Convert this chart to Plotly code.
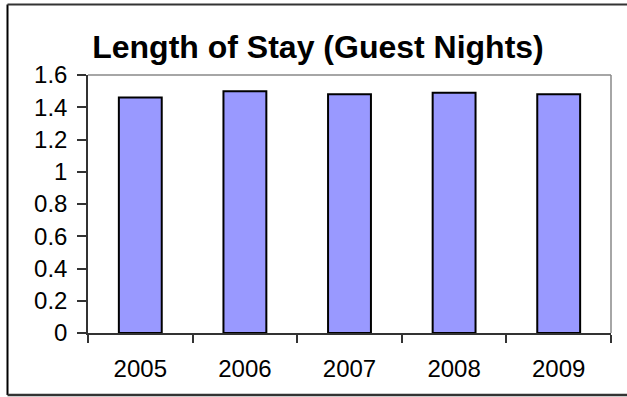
import plotly.graph_objects as go

years = ["2005", "2006", "2007", "2008", "2009"]
nights = [1.46, 1.50, 1.48, 1.49, 1.48]
y_ticks = [0, 0.2, 0.4, 0.6, 0.8, 1.0, 1.2, 1.4, 1.6]
y_tick_text = ["0", "0.2", "0.4", "0.6", "0.8", "1", "1.2", "1.4", "1.6"]

W, H = 627, 397
L, R, T, B = 88, 16, 75, 64
pw, ph = W - L - R, H - T - B

def px(x):
    return (x - L) / pw

def py(y):
    return (H - B - y) / ph

FONT = "Liberation Sans, Arial, sans-serif"

fig = go.Figure(
    go.Bar(
        x=years,
        y=nights,
        marker=dict(color="#9999FF", line=dict(color="#000000", width=2)),
        hoverinfo="x+y",
    )
)

fig.update_layout(
    width=W,
    height=H,
    margin=dict(l=L, r=R, t=T, b=B),
    paper_bgcolor="white",
    plot_bgcolor="white",
    bargap=0.59,
    showlegend=False,
    font=dict(family=FONT, size=24, color="black"),
    title=dict(
        text="<b>Length of Stay (Guest Nights)</b>",
        font=dict(family=FONT, size=32, color="black"),
        x=318 / W,
        xanchor="center",
        y=1 - 47 / H,
        yanchor="middle",
    ),
    xaxis=dict(
        type="category",
        showgrid=False,
        showline=True,
        linecolor="#333333",
        linewidth=1.5,
        ticks="outside",
        tickson="boundaries",
        ticklen=8,
        tickcolor="#333333",
        tickwidth=1.5,
        tickfont=dict(size=24),
        ticklabelstandoff=13,
    ),
    yaxis=dict(
        range=[0, 1.6],
        tickvals=y_ticks,
        ticktext=y_tick_text,
        showgrid=False,
        zeroline=False,
        showline=True,
        linecolor="#333333",
        linewidth=1.5,
        ticks="outside",
        ticklen=9,
        tickcolor="#333333",
        tickwidth=1.5,
        tickfont=dict(size=24),
        ticklabelstandoff=5,
    ),
    shapes=[
        # plot area: grey top and right edges
        dict(type="line", xref="paper", yref="paper", x0=0, x1=1, y0=1, y1=1,
             line=dict(color="#888888", width=1.5)),
        dict(type="line", xref="paper", yref="paper", x0=1, x1=1, y0=0, y1=1,
             line=dict(color="#888888", width=1.5)),
        # chart frame
        dict(type="line", xref="paper", yref="paper", x0=px(7.5), x1=px(7.5),
             y0=py(4.5), y1=py(395), line=dict(color="#000000", width=2)),
        dict(type="line", xref="paper", yref="paper", x0=px(7.5), x1=px(640),
             y0=py(4.5), y1=py(4.5), line=dict(color="#333333", width=2)),
        dict(type="line", xref="paper", yref="paper", x0=px(7.5), x1=px(640),
             y0=py(395), y1=py(395), line=dict(color="#333333", width=2.5)),
    ],
)

fig.write_html("out.html")
